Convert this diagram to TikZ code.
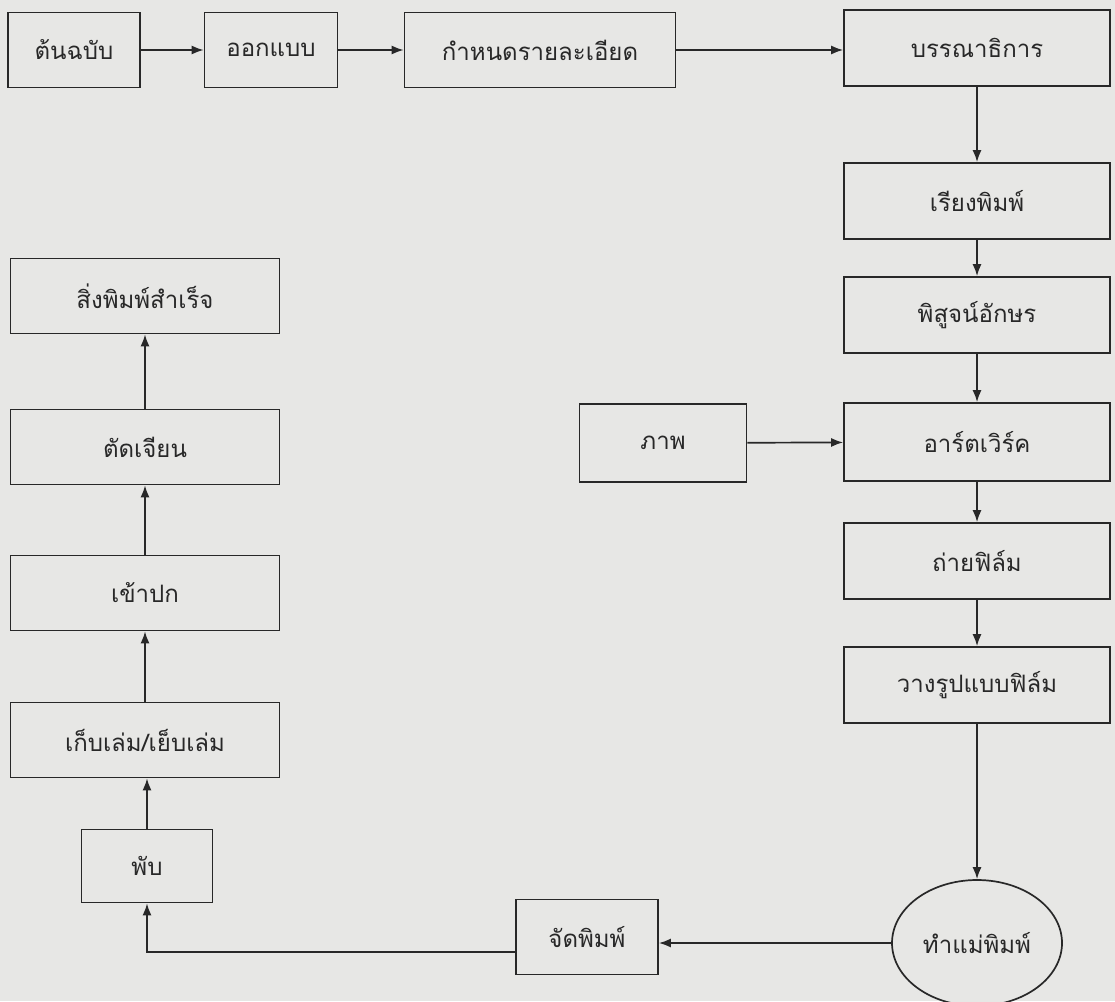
\documentclass[tikz,border=0pt]{standalone}
\usepackage{fontspec}
\newfontfamily\thaifont[Script=Thai]{Loma}
\usetikzlibrary{arrows.meta,shapes.geometric}
\definecolor{bg}{RGB}{231,231,229}
\definecolor{linec}{RGB}{40,40,40}
\tikzset{
  box/.style={draw=linec, line width=1.7pt, fill=bg, rectangle, minimum height=75pt, inner sep=0pt, text=linec},
  oval/.style={draw=linec, line width=1.7pt, fill=bg, ellipse, inner sep=0pt, text=linec},
  arr/.style={draw=linec, line width=1.7pt, -{Latex[length=12pt,width=9pt]}},
}
\begin{document}
\begin{tikzpicture}[x=1pt,y=-1pt,font=\thaifont\fontsize{24}{29}\selectfont]
\fill[bg] (0,0) rectangle (1115,1001);
\useasboundingbox (0,0) rectangle (1115,1001);
% top row
\node[box, minimum width=132pt] (n1) at (74,50) {ต้นฉบับ};
\node[box, minimum width=133pt] (n2) at (271,50) {ออกแบบ};
\node[box, minimum width=271pt] (n3) at (540,50) {กำหนดรายละเอียด};
% right column
\node[box, minimum width=266pt, minimum height=76pt] (n4) at (977,48) {บรรณาธิการ};
\node[box, minimum width=266pt, minimum height=76pt] (n5) at (977,201) {เรียงพิมพ์};
\node[box, minimum width=266pt, minimum height=76pt] (n6) at (977,315) {พิสูจน์อักษร};
\node[box, minimum width=266pt, minimum height=78pt] (n7) at (977,442) {อาร์ตเวิร์ค};
\node[box, minimum width=266pt, minimum height=76pt] (n8) at (977,561) {ถ่ายฟิล์ม};
\node[box, minimum width=266pt, minimum height=76pt] (n9) at (977,685) {วางรูปแบบฟิล์ม};
\node[oval, minimum width=170pt, minimum height=126pt] (n10) at (977,943) {ทำแม่พิมพ์};
\node[box, minimum width=167pt, minimum height=78pt] (n17) at (663,443) {ภาพ};
% bottom
\node[box, minimum width=142pt] (n11) at (587,937) {จัดพิมพ์};
% left column
\node[box, minimum width=131pt, minimum height=73pt] (n12) at (147,866) {พับ};
\node[box, minimum width=269pt] (n13) at (145,740) {เก็บเล่ม/เย็บเล่ม};
\node[box, minimum width=269pt] (n14) at (145,593) {เข้าปก};
\node[box, minimum width=269pt] (n15) at (145,447) {ตัดเจียน};
\node[box, minimum width=269pt] (n16) at (145,296) {สิ่งพิมพ์สำเร็จ};
% connectors
\draw[arr] (n1) -- (n2);
\draw[arr] (n2) -- (n3);
\draw[arr] (n3.east) -- (n4.west |- n3.east);
\draw[arr] (n4) -- (n5);
\draw[arr] (n5) -- (n6);
\draw[arr] (n6) -- (n7);
\draw[arr] (n7) -- (n8);
\draw[arr] (n8) -- (n9);
\draw[arr] (n9) -- (n10);
\draw[arr] (n17) -- (n7);
\draw[arr] (n10.west) -- (n11.east |- n10.west);
\draw[arr] ([yshift=-15pt]n11.west) -| (n12.south);
\draw[arr] (n12) -- (n12 |- n13.south);
\draw[arr] (n13) -- (n14);
\draw[arr] (n14) -- (n15);
\draw[arr] (n15) -- (n16);
\end{tikzpicture}
\end{document}
